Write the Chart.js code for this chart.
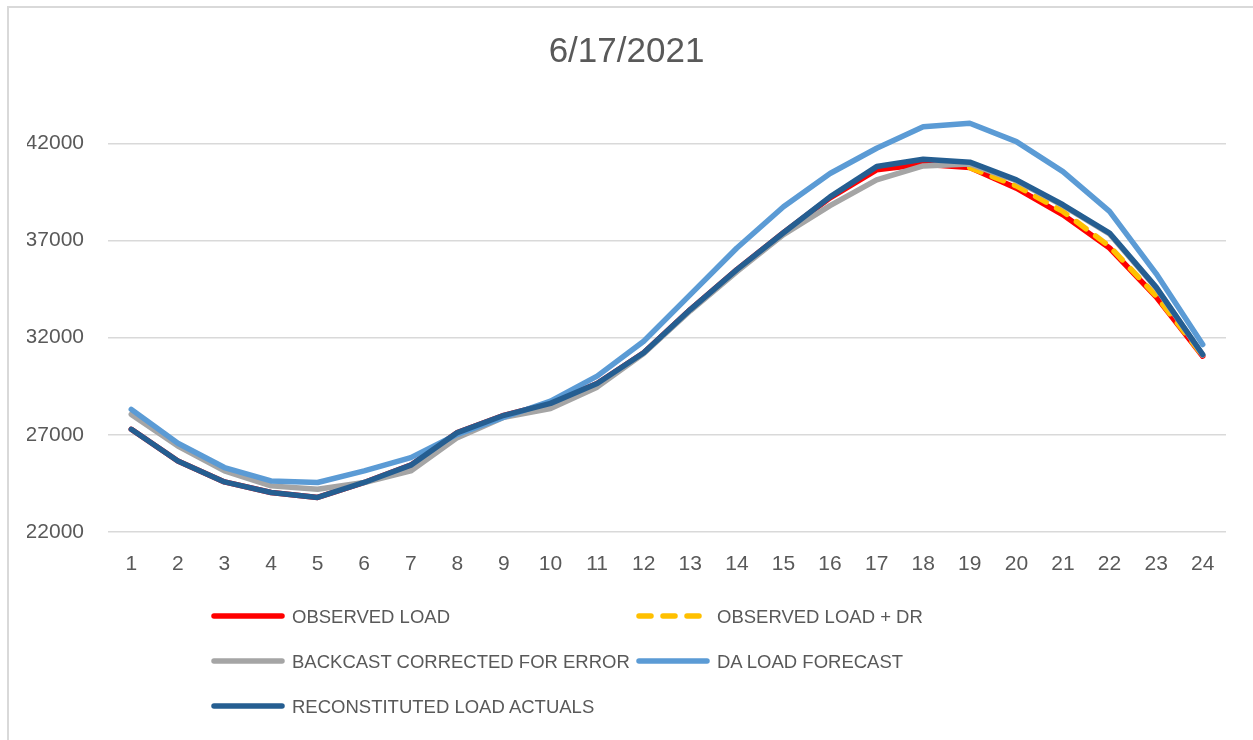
<!DOCTYPE html>
<html>
<head>
<meta charset="utf-8">
<script src="https://cdn.jsdelivr.net/npm/chart.js@4"></script>
<style>
  html, body { margin: 0; padding: 0; background: #ffffff; overflow: hidden; }
  #wrap { position: relative; width: 1253px; height: 740px; }
  #c { position: absolute; left: 0; top: 0; }
  #frame { position: absolute; left: 7px; top: 6px; width: 1300px; height: 800px;
           border-left: 2px solid #d9d9d9; border-top: 2px solid #d9d9d9; pointer-events: none; }
  .lg-item { position: absolute; height: 0; }
  .lg-item svg { position: absolute; top: -6px; }
  .lg-text { position: absolute; top: 0; transform: translateY(-50%); white-space: nowrap;
             font-family: "Liberation Sans", Arial, sans-serif; font-size: 18.5px; line-height: 19px; color: #595959; }
</style>
</head>
<body>
<div id="wrap">
  <canvas id="c" width="1253" height="740"></canvas>
  <div id="frame"></div>
  <div id="legend"></div>
</div>
<script>
const title = '6/17/2021';
const hours = ['1','2','3','4','5','6','7','8','9','10','11','12','13','14','15','16','17','18','19','20','21','22','23','24'];
const yTicks = [22000, 27000, 32000, 37000, 42000];

const observedLoad = [27277, 25650, 24570, 24025, 23770, 24540, 25430, 27110, 28000, 28613, 29640, 31220,
                      33444, 35500, 37400, 39200, 40638, 40931, 40756, 39698, 38326, 36615, 34100, 31044];
const observedLoadDR = [null, null, null, null, null, null, null, null, null, null, null, null,
                        null, null, null, null, null, null, 40756, 39816, 38497, 36700, 34150, 31070];
const backcastCorrected = [28048, 26420, 25135, 24365, 24195, 24540, 25135, 26850, 27900, 28350, 29450, 31180,
                           33380, 35400, 37300, 38800, 40124, 40844, 40947, 40080, 38800, 37340, 34560, 31100];
const daLoadForecast = [28305, 26558, 25310, 24620, 24540, 25135, 25820, 27020, 27900, 28733, 30017, 31815,
                        34215, 36615, 38737, 40450, 41753, 42863, 43038, 42093, 40551, 38497, 35300, 31645];
const reconstituted = [27277, 25650, 24570, 24025, 23770, 24540, 25430, 27110, 28000, 28613, 29640, 31220,
                       33444, 35500, 37400, 39250, 40808, 41188, 41034, 40124, 38840, 37385, 34600, 31131];

const seriesNames = ['OBSERVED LOAD', 'OBSERVED LOAD + DR', 'BACKCAST CORRECTED FOR ERROR', 'DA LOAD FORECAST', 'RECONSTITUTED LOAD ACTUALS'];

const FONT = '"Liberation Sans", Arial, sans-serif';
const TXT = '#595959';

function ds(label, data, color, order, dash) {
  return {
    label, data, borderColor: color, backgroundColor: color,
    borderWidth: 5.5, pointRadius: 0, pointHoverRadius: 0, tension: 0,
    borderCapStyle: 'round', borderJoinStyle: 'round',
    borderDash: dash || [], spanGaps: false, order, fill: false
  };
}

const chart = new Chart(document.getElementById('c'), {
  type: 'line',
  data: {
    labels: hours,
    datasets: [
      ds(seriesNames[0], observedLoad, '#FF0000', 5),
      ds(seriesNames[1], observedLoadDR, '#FFC000', 4, [12, 12]),
      ds(seriesNames[2], backcastCorrected, '#A5A5A5', 3),
      ds(seriesNames[3], daLoadForecast, '#5B9BD5', 2),
      ds(seriesNames[4], reconstituted, '#255E91', 1)
    ]
  },
  options: {
    responsive: false,
    animation: false,
    devicePixelRatio: 1,
    layout: { padding: { left: 27, right: 27, top: 0, bottom: 143 } },
    plugins: {
      legend: { display: false },
      tooltip: { enabled: false },
      title: {
        display: true, text: title, color: TXT,
        font: { family: FONT, size: 35, weight: 'normal', lineHeight: 1.2 },
        padding: { top: 31, bottom: 31.6 }
      }
    },
    scales: {
      x: {
        type: 'category',
        offset: true,
        grid: { display: false, drawTicks: false },
        border: { display: false },
        ticks: { color: TXT, font: { family: FONT, size: 21, lineHeight: 1.2 }, padding: 20, maxRotation: 0, autoSkip: false }
      },
      y: {
        min: 22000, max: 44000,
        grid: { color: '#d9d9d9', lineWidth: 1.5, drawTicks: false },
        border: { display: false },
        ticks: { color: TXT, font: { family: FONT, size: 21 }, padding: 24, callback: (v) => String(v) },
        afterBuildTicks: (s) => { s.ticks = yTicks.map(v => ({ value: v })); },
        afterFit: (s) => { s.width = 81; }
      }
    }
  }
});

// HTML legend in Excel's two-column grid, built from the chart's datasets
(function buildLegend() {
  const host = document.getElementById('legend');
  const colX = [[211, 292], [636, 717]];
  const rowY = [616, 661, 706];
  chart.data.datasets.forEach((d, i) => {
    const col = i % 2, row = Math.floor(i / 2);
    const item = document.createElement('div');
    item.className = 'lg-item';
    item.style.left = '0px';
    item.style.top = rowY[row] + 'px';
    const dash = (d.borderDash && d.borderDash.length) ? ` stroke-dasharray="${d.borderDash.join(' ')}"` : '';
    item.innerHTML =
      `<svg width="76" height="12" style="left:${colX[col][0]}px">` +
      `<line x1="3" y1="6" x2="71" y2="6" stroke="${d.borderColor}" stroke-width="5.5" stroke-linecap="round"${dash}/></svg>` +
      `<div class="lg-text" style="left:${colX[col][1]}px"></div>`;
    item.querySelector('.lg-text').textContent = d.label;
    host.appendChild(item);
  });
})();
</script>
</body>
</html>
